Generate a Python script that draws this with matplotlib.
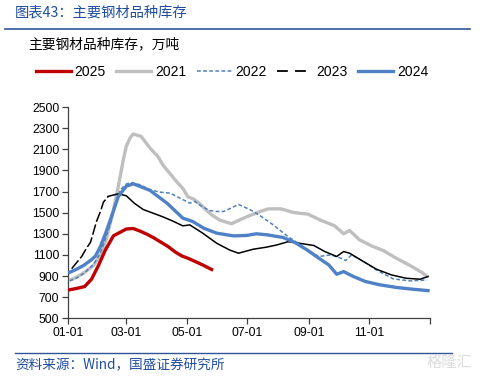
import matplotlib
matplotlib.use('Agg')
import matplotlib.pyplot as plt
from matplotlib.lines import Line2D

# ---------------- data (day of year, inventory 万吨) ----------------
days_2025 = [2, 10, 17, 24, 31, 38, 46, 52, 59, 66, 73, 80, 87, 94, 101, 108, 115, 122, 129, 136, 145]
vals_2025 = [770, 785, 800, 870, 1000, 1147, 1280, 1310, 1345, 1350, 1325, 1295, 1260, 1220, 1180, 1130,
             1090, 1065, 1035, 1005, 962]

days_2021 = [2, 9, 17, 26, 33, 39, 45, 51, 56, 59, 63, 66, 74, 83, 91, 96, 110, 116, 121, 127, 133, 140,
             145, 153, 165, 174, 184, 194, 202, 215, 227, 242, 254, 269, 278, 284, 294, 306, 318, 331,
             345, 357, 363]
vals_2021 = [860, 890, 935, 1000, 1100, 1250, 1480, 1748, 2000, 2127, 2210, 2244, 2222, 2110, 2030, 1950,
             1790, 1730, 1650, 1628, 1585, 1520, 1480, 1430, 1395, 1435, 1475, 1511, 1536, 1536, 1502,
             1486, 1432, 1375, 1300, 1331, 1243, 1186, 1141, 1069, 999, 933, 890]

days_2022 = [2, 9, 17, 26, 33, 38, 43, 48, 53, 59, 63, 73, 83, 93, 103, 113, 123, 128, 135, 143, 150, 157,
             165, 172, 184, 194, 207, 221, 233, 244, 253, 265, 275, 280, 286, 298, 311, 328, 345, 362]
vals_2022 = [855, 880, 930, 1010, 1120, 1250, 1400, 1560, 1717, 1770, 1786, 1764, 1717, 1694, 1685, 1638,
             1590, 1606, 1560, 1520, 1511, 1511, 1545, 1578, 1527, 1470, 1385, 1280, 1205, 1132, 1085,
             1100, 1069, 1047, 1100, 1037, 958, 873, 854, 863]

days_2023 = [4, 14, 19, 23, 29, 33, 36, 41, 51, 59, 67, 76, 86, 96, 106, 116, 123, 136, 150, 163, 172,
             187, 200, 211, 222, 233, 248, 259, 271, 278, 284, 298, 311, 326, 341, 355, 363]
vals_2023 = [970, 1084, 1164, 1220, 1416, 1511, 1600, 1655, 1678, 1660, 1590, 1530, 1495, 1460, 1420,
             1375, 1384, 1306, 1211, 1147, 1116, 1154, 1173, 1195, 1225, 1211, 1189, 1132, 1085, 1132,
             1116, 1037, 965, 911, 879, 870, 895]

days_2024 = [2, 9, 16, 24, 28, 33, 38, 43, 51, 59, 66, 73, 83, 100, 116, 126, 137, 150, 167, 180, 190,
             201, 217, 229, 241, 253, 263, 271, 278, 288, 300, 315, 332, 348, 363]
vals_2024 = [935, 965, 1000, 1055, 1090, 1180, 1300, 1432, 1653, 1750, 1773, 1748, 1710, 1590, 1448,
             1416, 1353, 1306, 1280, 1284, 1300, 1290, 1265, 1217, 1148, 1069, 1006, 917, 942, 895, 848,
             816, 791, 775, 762]

tick_days = [0, 59, 120, 181, 243, 304, 365]
tick_labels = ['01-01', '03-01', '05-01', '07-01', '09-01', '11-01', '']
y_ticks = list(range(500, 2501, 200))

# ---------------- styling ----------------
CJK = ['Noto Sans CJK SC', 'DejaVu Sans']
LAT = ['Liberation Sans', 'DejaVu Sans']
c_red = '#C00000'
c_gray = '#BFBFBF'
c_blue = '#4F81C7'
c_blue22 = '#4F81BD'
c_black = '#000000'
c_title = '#1F4E9E'

fig = plt.figure(figsize=(4.8, 3.8), dpi=100)
ax = fig.add_axes([67.7 / 480, 1 - 318.3 / 380, (430 - 67.7) / 480, (318.3 - 107) / 380])

ax.plot(days_2021, vals_2021, color=c_gray, lw=2.4, solid_capstyle='butt', zorder=2)
ax.plot(days_2022, vals_2022, color=c_blue22, lw=1.1, dashes=(2.5, 1.5), zorder=3)
k = 8
ax.plot(days_2023[:k], vals_2023[:k], color=c_black, lw=1.1, dashes=(7, 1.8), zorder=4)
ax.plot(days_2023[k - 1:], vals_2023[k - 1:], color=c_black, lw=1.1, zorder=4)
ax.plot(days_2024, vals_2024, color=c_blue, lw=2.4, zorder=5)
ax.plot(days_2025, vals_2025, color=c_red, lw=2.4, zorder=6)

ax.set_xlim(0, 365)
ax.set_ylim(500, 2500)
ax.set_xticks(tick_days)
ax.set_xticklabels(tick_labels)
ax.set_yticks(y_ticks)
for s in ['top', 'right']:
    ax.spines[s].set_visible(False)
for s in ['left', 'bottom']:
    ax.spines[s].set_color('#404040')
    ax.spines[s].set_linewidth(0.9)
ax.tick_params(axis='both', direction='out', length=4, width=0.9, color='#404040',
               labelsize=8.8, pad=2)
for lab in ax.get_xticklabels() + ax.get_yticklabels():
    lab.set_family(LAT)
ax.patch.set_alpha(0)

# legend
handles = [
    Line2D([], [], color=c_red, lw=2.4),
    Line2D([], [], color=c_gray, lw=2.4),
    Line2D([], [], color=c_blue22, lw=1.1, dashes=(2.5, 1.5)),
    Line2D([], [], color=c_black, lw=1.3, dashes=(6, 4)),
    Line2D([], [], color=c_blue, lw=2.4),
]
labels = ['2025', '2021', '2022', '2023', '2024']
fig.legend(handles, labels, ncol=5, loc='center', bbox_to_anchor=(232 / 480, 1 - 72 / 380),
           frameon=False, prop={'family': LAT, 'size': 10}, handlelength=2.5,
           handletextpad=0.3, columnspacing=0.75, borderaxespad=0)

# header / footer
fig.text(15 / 480, 1 - 13 / 380, '图表43：主要钢材品种库存', family=CJK, fontsize=10.3,
         color=c_title, va='center', ha='left', style='italic')
fig.add_artist(Line2D([5 / 480, 470 / 480], [1 - 28.5 / 380] * 2, color='#2F5597', lw=1.2))
fig.text(28 / 480, 1 - 44 / 380, '主要钢材品种库存，万吨', family=CJK, fontsize=9.9,
         color='black', va='center', ha='left')
fig.add_artist(Line2D([15 / 480, 452 / 480], [1 - 353 / 380] * 2, color='#2F5597', lw=1.0))
fig.text(15 / 480, 1 - 365 / 380, '资料来源：Wind，国盛证券研究所', family=CJK, fontsize=9.8,
         color=c_title, va='center', ha='left', style='italic')
fig.text(472 / 480, 1 - 362 / 380, '格隆汇', family=CJK, fontsize=11, color='#DDDDDD',
         va='center', ha='right')

fig.savefig('out.png', dpi=100)
